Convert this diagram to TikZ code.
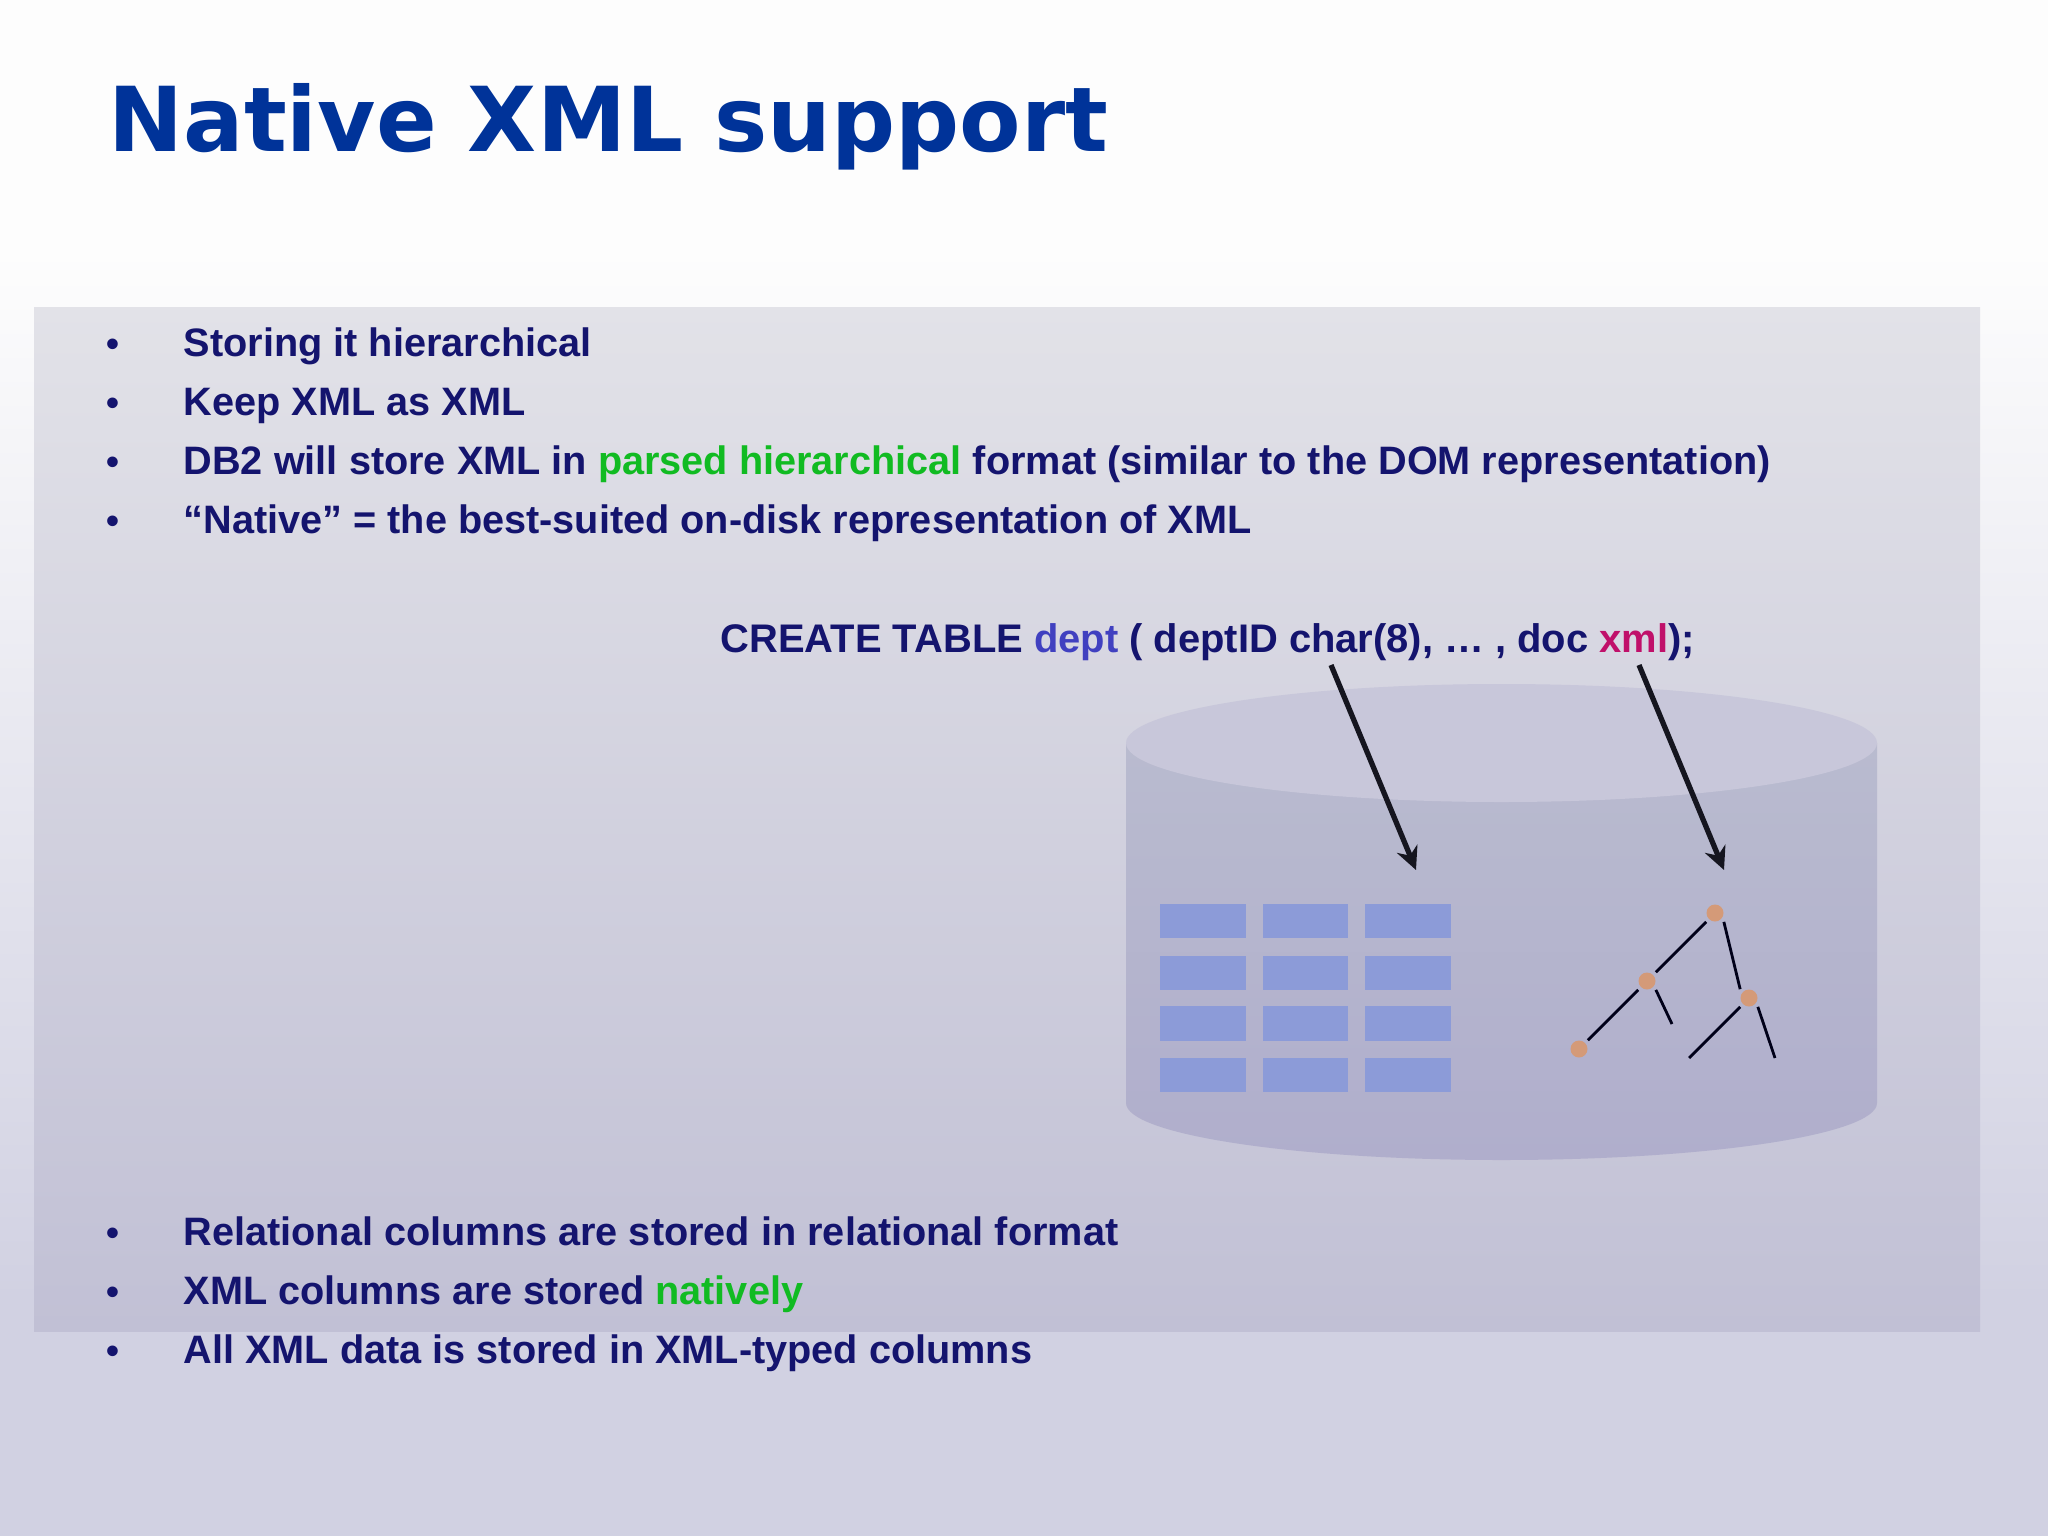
\documentclass[tikz,border=0pt]{standalone}
\usepackage{fontspec}
\setmainfont{Liberation Sans}
\newfontfamily\titlefont{DejaVu Sans}
\usepackage{xcolor}
\usetikzlibrary{arrows.meta}
\definecolor{navytext}{HTML}{14146E}
\definecolor{titleblue}{HTML}{003399}
\definecolor{greentext}{HTML}{11BB22}
\definecolor{depttext}{HTML}{4040C0}
\definecolor{xmltext}{HTML}{C0106A}
\definecolor{slidehigh}{HTML}{FDFDFD}
\definecolor{slidemid}{HTML}{E3E4EC}
\definecolor{slidelow}{HTML}{D1D1E2}
\definecolor{panelhigh}{HTML}{E2E2E8}
\definecolor{panellow}{HTML}{C1C0D5}
\definecolor{cylhigh}{HTML}{B9BBCF}
\definecolor{cyllow}{HTML}{B0AECC}
\definecolor{cyltop}{HTML}{C8C7DA}
\definecolor{cellblue}{HTML}{8C9BD8}
\definecolor{treedot}{HTML}{D49A78}
\definecolor{pointerdark}{HTML}{15151F}

\begin{document}
\begin{tikzpicture}[
		x=0.01cm, y=-0.01cm,
		line/.style={anchor=base west, font=\bfseries\fontsize{11.28pt}{13pt}\selectfont, text=navytext, inner sep=0pt},
		bullet/.style={anchor=base, font=\bfseries\fontsize{10.5pt}{13pt}\selectfont, text=navytext, inner sep=0pt},
		cell/.style={fill=cellblue, minimum width=0.85cm, minimum height=0.345cm, inner sep=0pt},
		treenode/.style={circle, fill=treedot, minimum size=0.17cm, inner sep=0pt, outer sep=0.04cm},
		treeline/.style={draw=black!90!blue, line width=0.8pt},
		pointer/.style={-{Stealth[length=0.23cm, width=0.22cm]}, line width=1.5pt, draw=pointerdark, fill=pointerdark}
		]
	
		\useasboundingbox (0,0) rectangle (2048,1536);
	
		% --- Fond ---
		\fill[slidehigh] (0,0) rectangle (2048,250);
		\shade[top color=slidehigh, middle color=slidemid, bottom color=slidelow] (0,250) rectangle (2048,1300);
		\fill[slidelow] (0,1300) rectangle (2048,1536);
		\shade[top color=panelhigh, bottom color=panellow] (34,307) rectangle (1980,1331);
	
		% --- Titre ---
		\node[anchor=base west, inner sep=0pt, text=titleblue, font=\titlefont\bfseries\fontsize{25.47pt}{30pt}\selectfont] (title) at (108,151) {Native XML support};
	
		% --- Cylindre ---
		\shade[top color=cylhigh, bottom color=cyllow] (1126,743) -- (1126,1103) arc[start angle=180, end angle=0, x radius=375.5, y radius=57] -- (1877,743) -- cycle;
		\fill[cyltop] (1501.5,743) ellipse[x radius=375.5, y radius=59];
	
		% --- Premier groupe de lignes ---
		\node[bullet] (b1) at (113,356) {•};
		\node[bullet] (b2) at (113,415) {•};
		\node[bullet] (b3) at (113,474) {•};
		\node[bullet] (b4) at (113,533) {•};
		\node[line] (l1) at (183,356) {Storing it hierarchical};
		\node[line] (l2) at (183,415) {Keep XML as XML};
		\node[line] (l3) at (183,474) {DB2 will store XML in \textcolor{greentext}{parsed hierarchical} format (similar to the DOM representation)};
		\node[line] (l4) at (183,533) {“Native” = the best-suited on-disk representation of XML};
	
		\node[line, font=\bfseries\fontsize{11.35pt}{13pt}\selectfont] (create) at (720,652) {CREATE TABLE \textcolor{depttext}{dept} ( deptID char(8), … , doc \textcolor{xmltext}{xml});};
	
		% --- Second groupe de lignes ---
		\node[bullet] (b5) at (113,1245) {•};
		\node[bullet] (b6) at (113,1304) {•};
		\node[bullet] (b7) at (113,1363) {•};
		\node[line] (l5) at (183,1245) {Relational columns are stored in relational format};
		\node[line] (l6) at (183,1304) {XML columns are stored \textcolor{greentext}{natively}};
		\node[line] (l7) at (183,1363) {All XML data is stored in XML-typed columns};
	
		% --- Table ---
		\node[cell] (c11) at (1203,921) {};
		\node[cell] (c12) at (1305.5,921) {};
		\node[cell] (c13) at (1408,921) {};
		\node[cell] (c21) at (1203,973) {};
		\node[cell] (c22) at (1305.5,973) {};
		\node[cell] (c23) at (1408,973) {};
		\node[cell] (c31) at (1203,1023.5) {};
		\node[cell] (c32) at (1305.5,1023.5) {};
		\node[cell] (c33) at (1408,1023.5) {};
		\node[cell] (c41) at (1203,1075) {};
		\node[cell] (c42) at (1305.5,1075) {};
		\node[cell] (c43) at (1408,1075) {};
	
		% --- Arbre ---
		\node[treenode] (root) at (1715,913) {};
		\node[treenode] (mid) at (1647,981) {};
		\node[treenode] (right) at (1749,998) {};
		\node[treenode] (leaf) at (1579,1049) {};
		\coordinate (midend) at (1672,1024);
		\coordinate (rightendA) at (1689,1058);
		\coordinate (rightendB) at (1775,1058);
	
		\draw[treeline] (root) -- (mid);
		\draw[treeline] (root.south east) -- (right.north west);
		\draw[treeline] (mid) -- (leaf);
		\draw[treeline] (mid.south east) -- (midend);
		\draw[treeline] (right) -- (rightendA);
		\draw[treeline] (right.south east) -- (rightendB);
	
		% --- Flèches ---
		\coordinate (startA) at (1331,665);
		\coordinate (tipA) at (1416,870);
		\coordinate (startB) at (1639,665);
		\coordinate (tipB) at (1724,870);
		\draw[pointer] (startA) -- (tipA);
		\draw[pointer] (startB) -- (tipB);
	
	\end{tikzpicture}
\end{document}
